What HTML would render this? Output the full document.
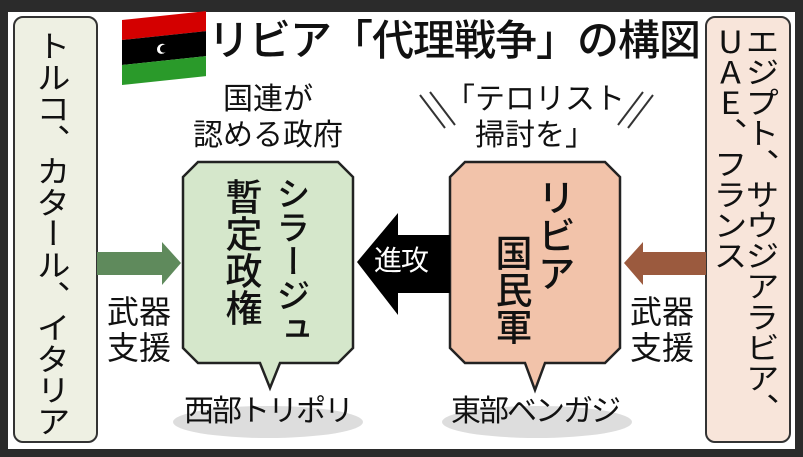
<!DOCTYPE html>
<html><head><meta charset="utf-8"><style>
*{margin:0;padding:0;box-sizing:border-box}
body{width:803px;height:457px;background:#2b2b2b;position:relative;overflow:hidden;font-family:"Noto Sans CJK JP","Liberation Sans",sans-serif;color:#111}
.a{position:absolute;white-space:nowrap;line-height:1}
.v{writing-mode:vertical-rl;text-orientation:upright;transform-origin:0 0}
</style></head><body>
<div style="position:absolute;left:8px;top:12px;width:787px;height:437px;background:#fff"></div>
<svg style="position:absolute;left:0;top:0" width="803" height="457">
<rect x="14" y="17" width="83" height="425" rx="9" fill="#eef0e3" stroke="#333" stroke-width="2"/>
<rect x="706" y="17" width="84" height="425" rx="9" fill="#f8e5da" stroke="#333" stroke-width="2"/>
<g transform="translate(122,14) skewY(-6)">
<rect x="0" y="6" width="84" height="20" fill="#d40000"/>
<rect x="0" y="26" width="84" height="25" fill="#000"/>
<rect x="0" y="51" width="84" height="20" fill="#2a9a2a"/>
<circle cx="40" cy="39" r="5" fill="#fff"/><circle cx="42" cy="39" r="4" fill="#000"/>
</g>
<ellipse cx="268" cy="422" rx="95" ry="16" fill="#ddd"/>
<ellipse cx="537" cy="422" rx="95" ry="16" fill="#ddd"/>
<path d="M198 162 H338 L353 177 V348 L338 363 H280 L270 388 L260 363 H198 L183 348 V177 Z" fill="#d5e7cb" stroke="#222" stroke-width="2.5"/>
<path d="M465 162 H605 L620 177 V348 L605 363 H545 L535 390 L525 363 H465 L450 348 V177 Z" fill="#f2c3aa" stroke="#222" stroke-width="2.5"/>
<path d="M450 235 H398 V213 L357 262 L398 315 V293 H450 Z" fill="#000"/>
<path d="M97 252 H162 V242 L181 263 L162 285 V275 H97 Z" fill="#5f8a5c"/>
<path d="M706 252 H643 V242 L624 263 L643 285 V275 H706 Z" fill="#9b5a3e"/>
<g stroke="#333" stroke-width="2">
<line x1="420" y1="95" x2="445" y2="128"/><line x1="430" y1="92" x2="455" y2="125"/>
<line x1="653" y1="95" x2="628" y2="128"/><line x1="643" y1="92" x2="618" y2="125"/>
</g>
</svg>
<div class="a" style="left:208px;top:17px;font-size:42px;letter-spacing:-1px;font-weight:500">リビア「代理戦争」の構図</div>
<div class="a" style="left:183px;top:78px;width:170px;text-align:center;font-size:30px;line-height:36px">国連が<br>認める政府</div>
<div class="a" style="left:440px;top:78px;width:190px;text-align:center;font-size:30px;line-height:36px">「テロリスト<br>掃討を」</div>
<div class="a v" style="left:36px;top:30px;font-size:34px;transform:scaleY(0.92)">トルコ、カタール、イタリア</div>
<div class="a v" style="left:745px;top:26px;font-size:34px;transform:scaleY(0.9)">エジプト、サウジアラビア、</div>
<div class="a v" style="left:713px;top:26px;font-size:34px;transform:scaleY(0.9)">UAE、フランス</div>
<div class="a v" style="left:276px;top:176px;font-size:34px;font-weight:500">シラージュ</div>
<div class="a v" style="left:225px;top:178px;font-size:37px;font-weight:500">暫定政権</div>
<div class="a v" style="left:537px;top:178px;font-size:38px;font-weight:500">リビア</div>
<div class="a v" style="left:495px;top:234px;font-size:37px;font-weight:500">国民軍</div>
<div class="a" style="left:374px;top:245px;font-size:28px;color:#fff;letter-spacing:-1px">進攻</div>
<div class="a" style="left:107px;top:292px;font-size:32px;line-height:36px">武器<br>支援</div>
<div class="a" style="left:630px;top:292px;font-size:32px;line-height:36px">武器<br>支援</div>
<div class="a" style="left:170px;top:393px;width:196px;text-align:center;font-size:30px;letter-spacing:-2px">西部トリポリ</div>
<div class="a" style="left:437px;top:393px;width:196px;text-align:center;font-size:30px;letter-spacing:-2px">東部ベンガジ</div>
</body></html>
